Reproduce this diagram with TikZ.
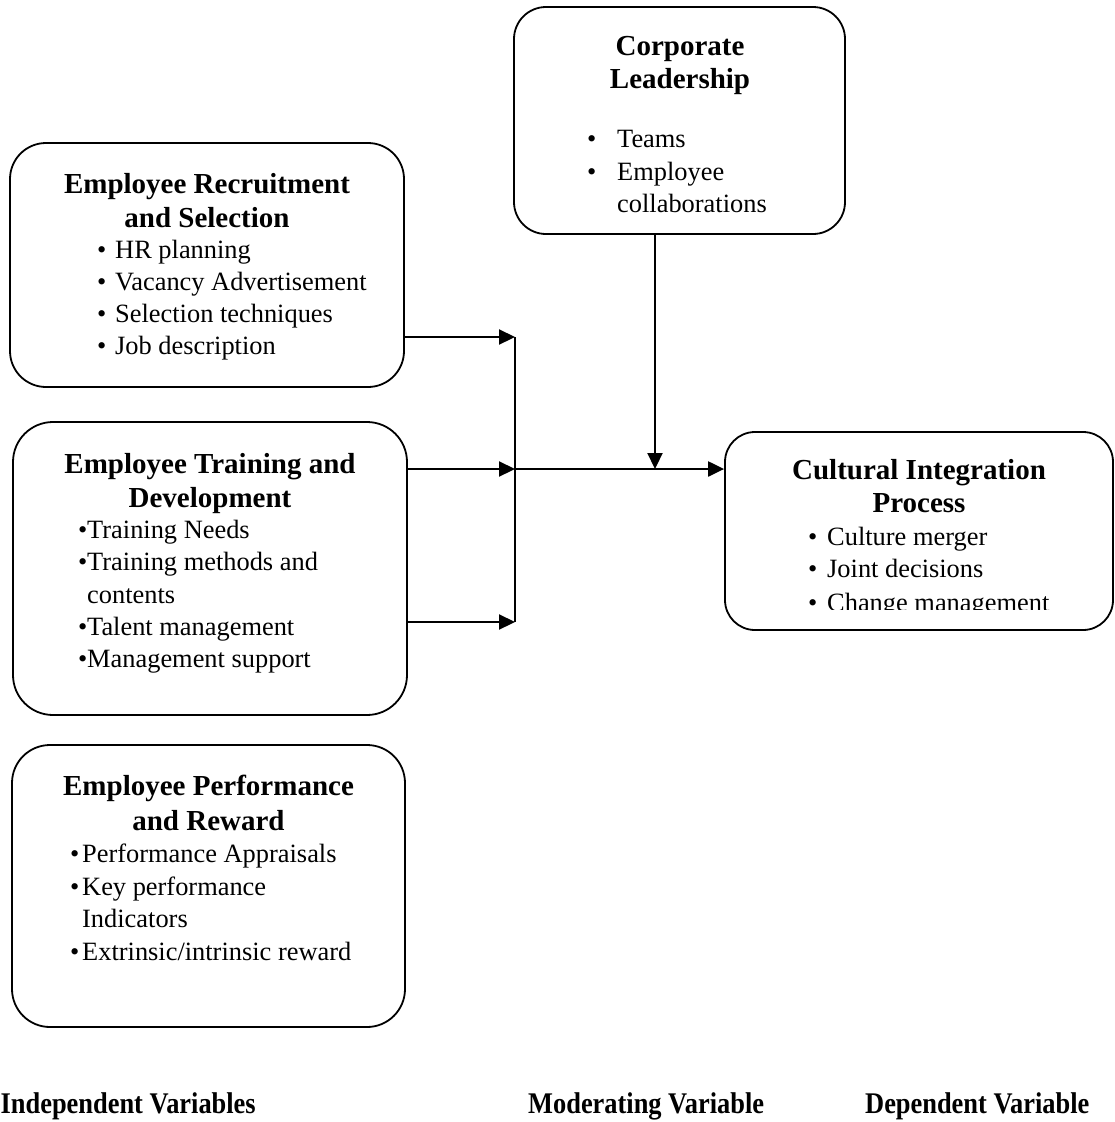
\documentclass[tikz,border=0pt]{standalone}
\usepackage{fontspec}
\setmainfont{Liberation Serif}
\newfontfamily\labfont{Liberation Serif}[FakeStretch=0.88]
\usetikzlibrary{arrows.meta}
\tikzset{
  box/.style={draw, line width=1.8pt, inner sep=0pt},
  ttl/.style={inner sep=0pt, anchor=base, font=\bfseries\fontsize{29}{33}\selectfont},
  txt/.style={inner sep=0pt, anchor=base west, font=\fontsize{26.4}{30}\selectfont},
  lab/.style={inner sep=0pt, anchor=base west, font=\labfont\bfseries\fontsize{30}{34}\selectfont},
  arr/.style={line width=2.2pt, -{Triangle[length=16pt,width=15pt]}},
  ln/.style={line width=2.2pt}
}
\newcommand\myitem[5]{\node[txt] (#1b) at (#2,#4) {•}; \node[txt] (#1) at (#3,#4) {#5};}
\begin{document}
\begin{tikzpicture}[x=1pt,y=-1pt]
\useasboundingbox (0,0) rectangle (1115,1122);

% boxes
\node[box, rounded corners=36pt, minimum width=394pt, minimum height=244pt] (rec) at (207,265) {};
\node[box, rounded corners=40pt, minimum width=394pt, minimum height=293pt] (trn) at (210,568.5) {};
\node[box, rounded corners=38pt, minimum width=393pt, minimum height=282pt] (prf) at (208.5,886) {};
\node[box, rounded corners=32pt, minimum width=331pt, minimum height=227pt] (corp) at (679.5,120.5) {};
\node[box, rounded corners=30pt, minimum width=388pt, minimum height=198pt] (cult) at (919,531) {};

% Recruitment
\node[ttl] (rect1) at (207,193) {Employee Recruitment};
\node[ttl] (rect2) at (207,227) {and Selection};
\myitem{r1}{97}{115}{258}{HR planning}
\myitem{r2}{97}{115}{290}{Vacancy Advertisement}
\myitem{r3}{97}{115}{322}{Selection techniques}
\myitem{r4}{97}{115}{354}{Job description}

% Training
\node[ttl] (trnt1) at (210,473) {Employee Training and};
\node[ttl] (trnt2) at (210,507) {Development};
\myitem{t1}{78}{87}{538}{Training Needs}
\myitem{t2}{78}{87}{570}{Training methods and}
\node[txt] (t2c) at (87,603) {contents};
\myitem{t3}{78}{87}{635}{Talent management}
\myitem{t4}{78}{87}{667}{Management support}

% Performance
\node[ttl] (prft1) at (208.5,795) {Employee Performance};
\node[ttl] (prft2) at (208.5,830) {and Reward};
\myitem{p1}{70}{82}{862}{Performance Appraisals}
\myitem{p2}{70}{82}{895}{Key performance}
\node[txt] (p2c) at (82,927) {Indicators};
\myitem{p3}{70}{82}{960}{Extrinsic/intrinsic reward}

% Corporate leadership
\node[ttl] (corpt1) at (680,55) {Corporate};
\node[ttl] (corpt2) at (680,88) {Leadership};
\myitem{c1}{587}{617}{147}{Teams}
\myitem{c2}{587}{617}{180}{Employee}
\node[txt] (c2c) at (617,212) {collaborations};

% Cultural integration
\node[ttl] (cultt1) at (919,479) {Cultural Integration};
\node[ttl] (cultt2) at (919,512) {Process};
\myitem{u1}{808}{827}{545}{Culture merger}
\myitem{u2}{808}{827}{577}{Joint decisions}
\begin{scope}
\clip (725,432) rectangle (1113,609);
\myitem{u3}{808}{827}{611}{Change management}
\end{scope}

% connectors
\coordinate (jt) at (515,337);
\coordinate (jm) at (515,469);
\coordinate (jb) at (515,622);
\coordinate (ld) at (655,469);
\draw[ln] (jt) -- (jb);
\draw[arr] (rec.east |- jt) -- (jt);
\draw[arr] (trn.east |- jm) -- (jm);
\draw[arr] (trn.east |- jb) -- (jb);
\draw[arr] (jm) -- (cult.west |- jm);
\draw[arr] (corp.south -| ld) -- (ld);

% bottom labels
\node[lab] (lind) at (0.5,1113) {Independent Variables};
\node[lab] (lmod) at (528,1113) {Moderating Variable};
\node[lab] (ldep) at (865,1113) {Dependent Variable};
\end{tikzpicture}
\end{document}
